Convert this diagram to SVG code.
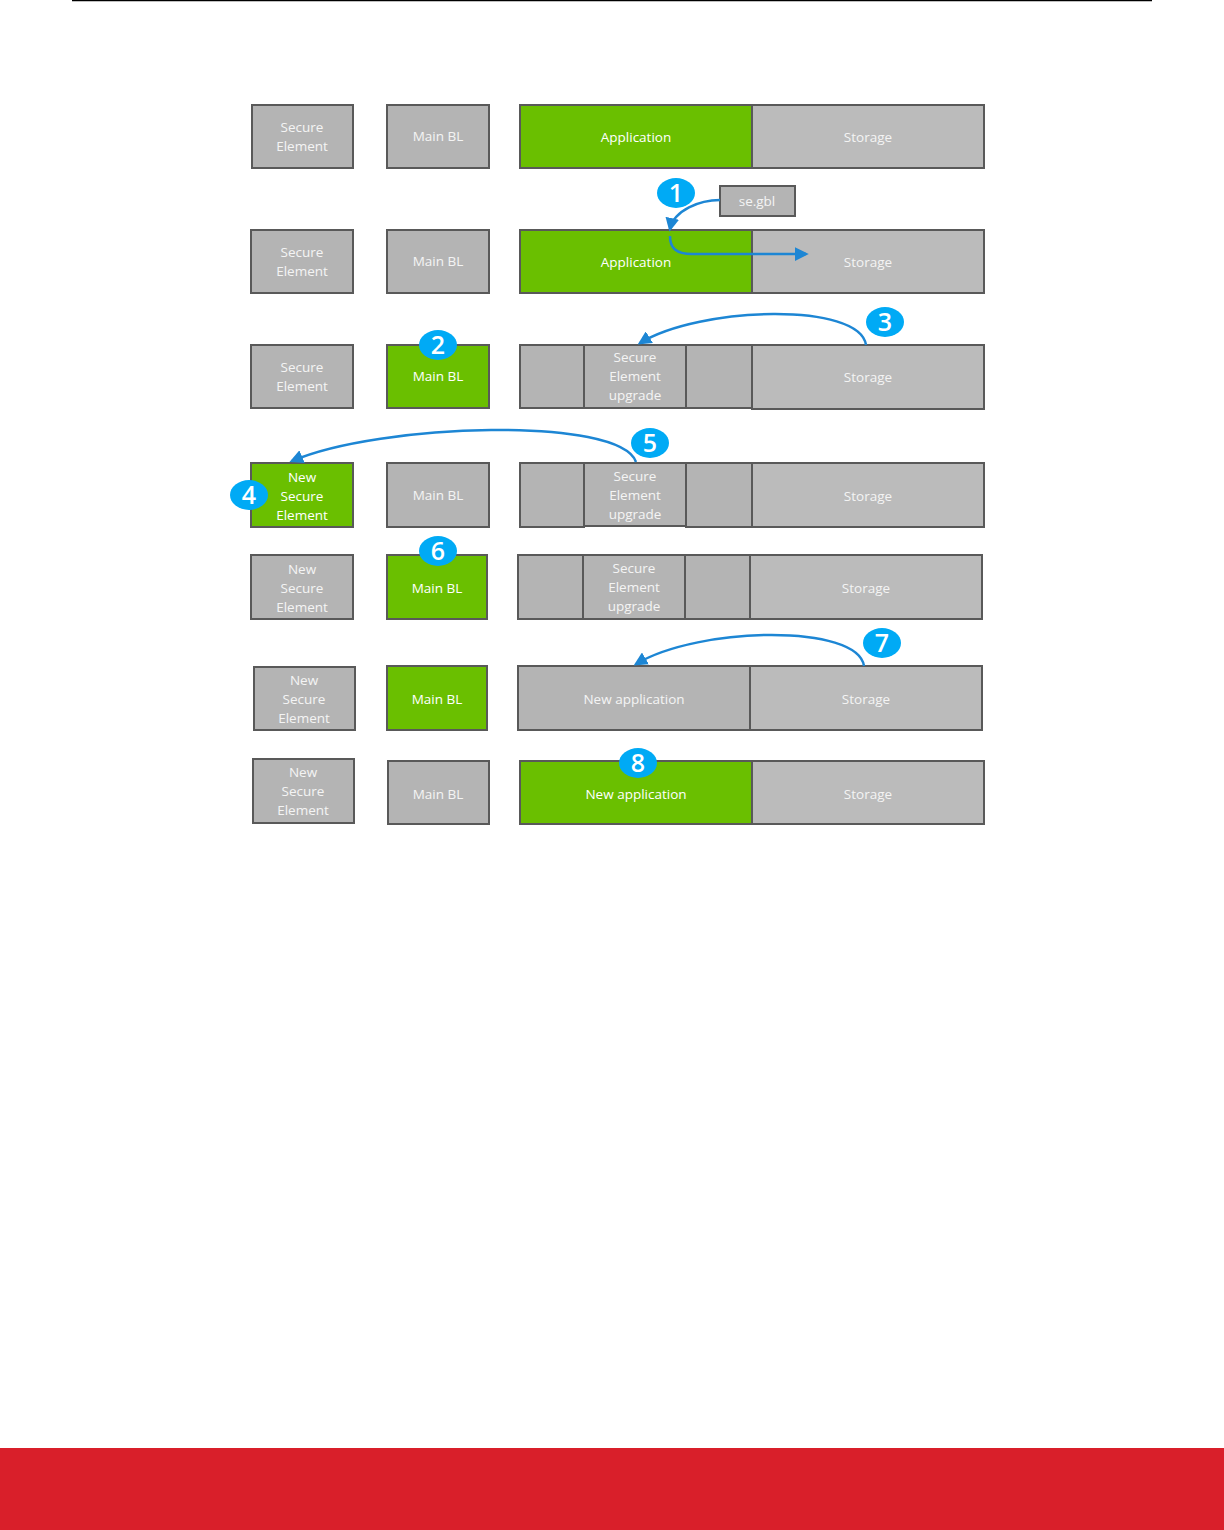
<svg xmlns="http://www.w3.org/2000/svg" width="1224" height="1530" viewBox="0 0 1224 1530">
<style>
.g{fill:#b4b4b4;stroke:#595959;stroke-width:2}
.s{fill:#bbbbbb;stroke:#595959;stroke-width:2}
.gr{fill:#6abf00;stroke:#595959;stroke-width:2}
.t{font-family:"Open Sans","Noto Sans","Liberation Sans",sans-serif;font-size:13.5px;fill:#f4f4f4;text-anchor:middle}
.tw{font-family:"Open Sans","Noto Sans","Liberation Sans",sans-serif;font-size:13.5px;fill:#ffffff;text-anchor:middle}
.b{fill:#00aaf5}
.bn{font-family:"Open Sans","Noto Sans","Liberation Sans",sans-serif;font-size:25px;font-weight:600;fill:#ffffff;text-anchor:middle}
.c{fill:none;stroke:#1d86d4;stroke-width:2.5}
</style>
<defs>
<marker id="ah" viewBox="0 0 10 10" refX="8" refY="5" markerWidth="5.5" markerHeight="5.5" orient="auto" markerUnits="strokeWidth">
<path d="M0,0 L10,5 L0,10 z" fill="#1d86d4"/>
</marker>
</defs>
<rect width="1224" height="1530" fill="#ffffff"/>
<line x1="72" y1="0.5" x2="1152" y2="0.5" stroke="#000" stroke-width="1.5"/>
<rect x="0" y="1448" width="1224" height="82" fill="#d91f2a"/>

<!-- Row 1 -->
<g id="r1-se"><rect class="g" x="252" y="105" width="101" height="63"/><text class="t" x="302" y="132">Secure</text><text class="t" x="302" y="151">Element</text></g>
<g id="r1-bl"><rect class="g" x="387" y="105" width="102" height="63"/><text class="t" x="438" y="141">Main BL</text></g>
<g id="r1-app"><rect class="gr" x="520" y="105" width="232" height="63"/><text class="tw" x="636" y="142">Application</text></g>
<g id="r1-st"><rect class="s" x="752" y="105" width="232" height="63"/><text class="t" x="868" y="142">Storage</text></g>

<!-- Row 2 -->
<g id="r2-se"><rect class="g" x="251" y="230" width="102" height="63"/><text class="t" x="302" y="257">Secure</text><text class="t" x="302" y="276">Element</text></g>
<g id="r2-bl"><rect class="g" x="387" y="230" width="102" height="63"/><text class="t" x="438" y="266">Main BL</text></g>
<g id="r2-app"><rect class="gr" x="520" y="230" width="232" height="63"/><text class="tw" x="636" y="267">Application</text></g>
<g id="r2-st"><rect class="s" x="752" y="230" width="232" height="63"/><text class="t" x="868" y="267">Storage</text></g>
<g id="segbl"><rect class="g" x="720" y="186" width="75" height="30"/><text class="t" x="757" y="206">se.gbl</text></g>
<g id="badge1"><ellipse class="b" cx="676" cy="193" rx="19" ry="15"/><text class="bn" x="676" y="202">1</text></g>

<!-- Row 3 -->
<g id="r3-se"><rect class="g" x="251" y="345" width="102" height="63"/><text class="t" x="302" y="372">Secure</text><text class="t" x="302" y="391">Element</text></g>
<g id="r3-bl"><rect class="gr" x="387" y="345" width="102" height="63"/><text class="tw" x="438" y="381">Main BL</text></g>
<g id="r3-a"><rect class="g" x="520" y="345" width="64" height="63"/></g>
<g id="r3-seu"><rect class="g" x="584" y="345" width="102" height="63"/><text class="t" x="635" y="362">Secure</text><text class="t" x="635" y="381">Element</text><text class="t" x="635" y="400">upgrade</text></g>
<g id="r3-b"><rect class="g" x="686" y="345" width="66" height="63"/></g>
<g id="r3-st"><rect class="s" x="752" y="345" width="232" height="64"/><text class="t" x="868" y="382">Storage</text></g>
<g id="badge2"><ellipse class="b" cx="438" cy="345" rx="19" ry="15"/><text class="bn" x="438" y="354">2</text></g>
<g id="badge3"><ellipse class="b" cx="885" cy="322" rx="19" ry="15"/><text class="bn" x="885" y="331">3</text></g>

<!-- Row 4 -->
<g id="r4-se"><rect class="gr" x="251" y="463" width="102" height="64"/><text class="tw" x="302" y="482">New</text><text class="tw" x="302" y="501">Secure</text><text class="tw" x="302" y="520">Element</text></g>
<g id="r4-bl"><rect class="g" x="387" y="463" width="102" height="64"/><text class="t" x="438" y="500">Main BL</text></g>
<g id="r4-a"><rect class="g" x="520" y="463" width="64" height="64"/></g>
<g id="r4-seu"><rect class="g" x="584" y="463" width="102" height="63"/><text class="t" x="635" y="481">Secure</text><text class="t" x="635" y="500">Element</text><text class="t" x="635" y="519">upgrade</text></g>
<g id="r4-b"><rect class="g" x="686" y="463" width="66" height="64"/></g>
<g id="r4-st"><rect class="s" x="752" y="463" width="232" height="64"/><text class="t" x="868" y="501">Storage</text></g>
<g id="badge4"><ellipse class="b" cx="249" cy="495" rx="19" ry="15"/><text class="bn" x="249" y="504">4</text></g>
<g id="badge5"><ellipse class="b" cx="650" cy="443" rx="19" ry="15"/><text class="bn" x="650" y="452">5</text></g>

<!-- Row 5 -->
<g id="r5-se"><rect class="g" x="251" y="555" width="102" height="64"/><text class="t" x="302" y="574">New</text><text class="t" x="302" y="593">Secure</text><text class="t" x="302" y="612">Element</text></g>
<g id="r5-bl"><rect class="gr" x="387" y="555" width="100" height="64"/><text class="tw" x="437" y="593">Main BL</text></g>
<g id="r5-a"><rect class="g" x="518" y="555" width="65" height="64"/></g>
<g id="r5-seu"><rect class="g" x="583" y="555" width="102" height="64"/><text class="t" x="634" y="573">Secure</text><text class="t" x="634" y="592">Element</text><text class="t" x="634" y="611">upgrade</text></g>
<g id="r5-b"><rect class="g" x="685" y="555" width="65" height="64"/></g>
<g id="r5-st"><rect class="s" x="750" y="555" width="232" height="64"/><text class="t" x="866" y="593">Storage</text></g>
<g id="badge6"><ellipse class="b" cx="438" cy="551" rx="19" ry="15"/><text class="bn" x="438" y="560">6</text></g>

<!-- Row 6 -->
<g id="r6-se"><rect class="g" x="254" y="667" width="101" height="63"/><text class="t" x="304" y="685">New</text><text class="t" x="304" y="704">Secure</text><text class="t" x="304" y="723">Element</text></g>
<g id="r6-bl"><rect class="gr" x="387" y="666" width="100" height="64"/><text class="tw" x="437" y="704">Main BL</text></g>
<g id="r6-app"><rect class="g" x="518" y="666" width="232" height="64"/><text class="t" x="634" y="704">New application</text></g>
<g id="r6-st"><rect class="s" x="750" y="666" width="232" height="64"/><text class="t" x="866" y="704">Storage</text></g>
<g id="badge7"><ellipse class="b" cx="882" cy="643" rx="19" ry="15"/><text class="bn" x="882" y="652">7</text></g>

<!-- Row 7 -->
<g id="r7-se"><rect class="g" x="253" y="759" width="101" height="64"/><text class="t" x="303" y="777">New</text><text class="t" x="303" y="796">Secure</text><text class="t" x="303" y="815">Element</text></g>
<g id="r7-bl"><rect class="g" x="388" y="761" width="101" height="63"/><text class="t" x="438" y="799">Main BL</text></g>
<g id="r7-app"><rect class="gr" x="520" y="761" width="232" height="63"/><text class="tw" x="636" y="799">New application</text></g>
<g id="r7-st"><rect class="s" x="752" y="761" width="232" height="63"/><text class="t" x="868" y="799">Storage</text></g>
<g id="badge8"><ellipse class="b" cx="638" cy="763" rx="19" ry="15"/><text class="bn" x="638" y="772">8</text></g>

<!-- Connectors -->
<g id="connectors">
<path class="c" d="M720,200 C700,200 674,210 670,229" marker-end="url(#ah)"/>
<path class="c" d="M670,236 C670,248 676,254 692,254 L806,254" marker-end="url(#ah)"/>
<path class="c" d="M866,345 C860,302 700,306 640,343" marker-end="url(#ah)"/>
<path class="c" d="M636,462 C620,416 380,423 292,461" marker-end="url(#ah)"/>
<path class="c" d="M864,666 C858,624 700,626 636,664" marker-end="url(#ah)"/>
</g>
</svg>
